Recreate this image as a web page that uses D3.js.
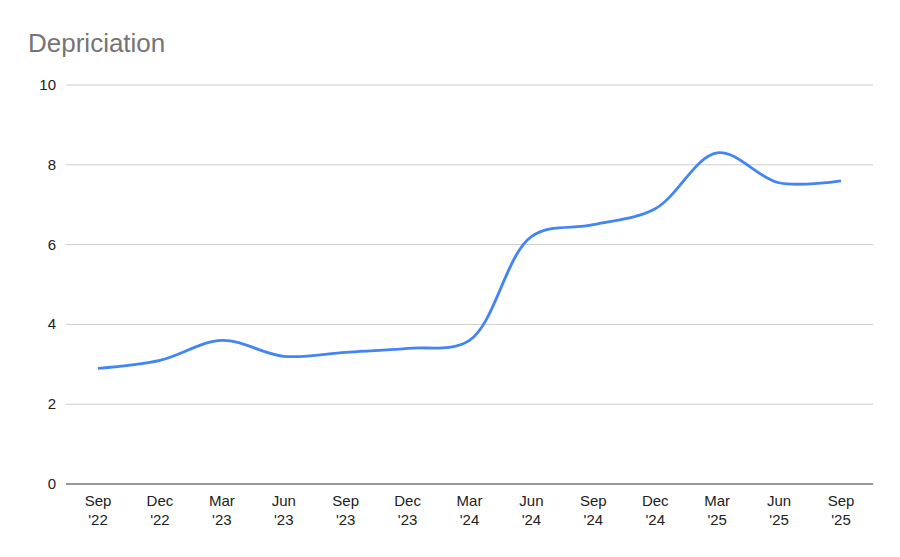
<!DOCTYPE html>
<html><head><meta charset="utf-8">
<script src="https://cdn.jsdelivr.net/npm/d3@7"></script>
<style>body{margin:0;background:#fff;font-family:Arial,"Liberation Sans",sans-serif}</style>
</head><body><svg id="c" width="900" height="557"></svg>
<script>
const months = ["Sep","Dec","Mar","Jun","Sep","Dec","Mar","Jun","Sep","Dec","Mar","Jun","Sep"];
const years = ["'22","'22","'23","'23","'23","'23","'24","'24","'24","'24","'25","'25","'25"];
const values = [2.9,3.1,3.6,3.2,3.3,3.4,3.6,6.2,6.5,6.9,8.3,7.55,7.6];
const yTicks = [0,2,4,6,8,10];

const svg = d3.select("#c");
const pLeft=66,pRight=873,pTop=85,pBottom=484;
const x = d3.scalePoint().domain(d3.range(values.length)).range([98,841]);
const y = d3.scaleLinear().domain([0,10]).range([pBottom,pTop]);

svg.append("text").attr("x",28).attr("y",52).attr("fill","#757575")
  .attr("font-size",26).text("Depriciation");

svg.selectAll("line.g").data(yTicks).join("line")
  .attr("x1",pLeft).attr("x2",pRight).attr("y1",d=>y(d)).attr("y2",d=>y(d))
  .attr("stroke",d=>d===0?"#333":"#ccc").attr("stroke-width",1);
svg.selectAll("text.yl").data(yTicks).join("text")
  .attr("x",56).attr("y",d=>y(d)+5).attr("text-anchor","end")
  .attr("font-size",15).attr("fill","#222").text(d=>d);

const xl = svg.selectAll("g.xl").data(values.map((v,i)=>i)).join("g")
  .attr("transform",i=>`translate(${x(i)},0)`);
xl.append("text").attr("y",506).attr("text-anchor","middle").attr("font-size",15).attr("fill","#222").text(i=>months[i]);
xl.append("text").attr("y",525).attr("text-anchor","middle").attr("font-size",15).attr("fill","#222").text(i=>years[i]);

const line = d3.line().x((d,i)=>x(i)).y(d=>y(d)).curve(d3.curveCatmullRom.alpha(0.5));
svg.append("path").datum(values).attr("d",line).attr("fill","none")
  .attr("stroke","#4285f4").attr("stroke-width",2.8).attr("stroke-linejoin","round");
</script></body></html>
